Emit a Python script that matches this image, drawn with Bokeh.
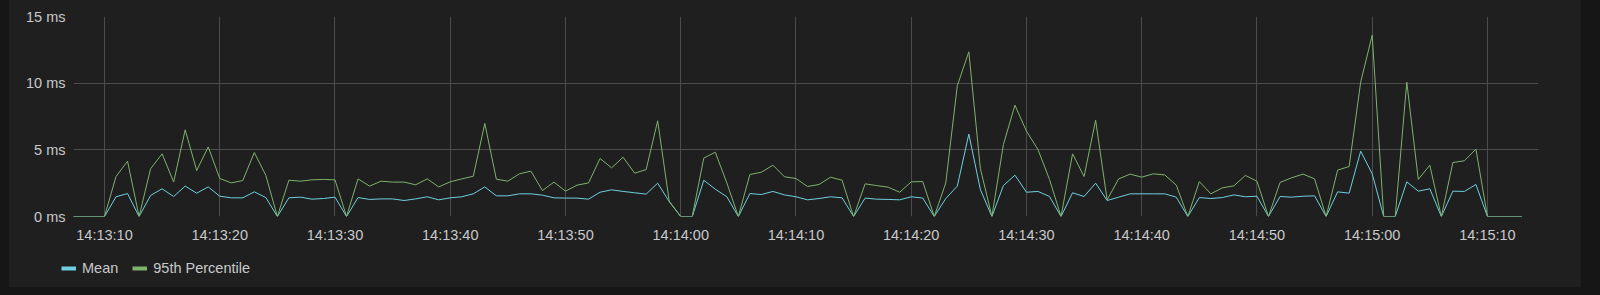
import pandas as pd
from bokeh.plotting import figure
from bokeh.layouts import column, row
from bokeh.models import (Range1d, FixedTicker, DatetimeTickFormatter, PrintfTickFormatter,
                          Legend, LegendItem, ColumnDataSource)
from bokeh.embed import file_html
from bokeh.resources import INLINE

# ---- data (one sample per second, starting 14:13:07) ----
start_time = "2019-01-01 14:13:07"
mean_ms = [
    0, 0, 0, 0, 1.48, 1.72, 0, 1.58, 2.08, 1.5,          # 13:07-13:16
    2.28, 1.75, 2.22, 1.52, 1.4, 1.4, 1.85, 1.42, 0, 1.4,   # 13:17-13:26
    1.45, 1.3, 1.35, 1.45, 0, 1.42, 1.28, 1.32, 1.32, 1.2,  # 13:27-13:36
    1.32, 1.48, 1.25, 1.4, 1.48, 1.7, 2.22, 1.55, 1.55, 1.7,  # 13:37-13:46
    1.7, 1.6, 1.4, 1.38, 1.38, 1.3, 1.82, 2.0, 1.88, 1.78,  # 13:47-13:56
    1.68, 2.5, 1.12, 0, 0, 2.72, 2.05, 1.48, 0, 1.72,       # 13:57-14:06
    1.65, 1.88, 1.62, 1.48, 1.25, 1.35, 1.48, 1.4, 0, 1.38,  # 14:07-14:16
    1.3, 1.28, 1.25, 1.48, 1.38, 0, 1.35, 2.28, 6.18, 2.02,  # 14:17-14:26
    0, 2.32, 3.1, 1.82, 1.88, 1.5, 0, 1.78, 1.5, 2.5,       # 14:27-14:36
    1.2, 1.45, 1.7, 1.7, 1.7, 1.7, 1.45, 0, 1.42, 1.35,     # 14:37-14:46
    1.42, 1.62, 1.48, 1.52, 0, 1.5, 1.45, 1.52, 1.55, 0,    # 14:47-14:56
    1.85, 1.75, 4.9, 3.2, 0, 0, 2.6, 1.9, 2.08, 0,          # 14:57-15:06
    1.9, 1.88, 2.4, 0, 0, 0, 0,                              # 15:07-15:13
]
p95_ms = [
    0, 0, 0, 0, 3.0, 4.15, 0, 3.58, 4.7, 2.58,
    6.5, 3.45, 5.22, 2.85, 2.52, 2.7, 4.8, 3.08, 0, 2.72,
    2.65, 2.75, 2.78, 2.75, 0, 2.82, 2.28, 2.65, 2.58, 2.58,
    2.38, 2.82, 2.22, 2.6, 2.82, 3.02, 6.98, 2.8, 2.65, 3.2,
    3.4, 1.95, 2.58, 1.9, 2.35, 2.52, 4.35, 3.65, 4.45, 3.25,
    3.52, 7.18, 1.15, 0, 0, 4.38, 4.82, 2.52, 0, 3.15,
    3.32, 3.85, 2.98, 2.85, 2.25, 2.4, 2.95, 2.72, 0, 2.45,
    2.32, 2.2, 1.82, 2.6, 2.62, 0, 2.52, 9.82, 12.35, 3.6,
    0, 5.4, 8.35, 6.4, 5.02, 2.78, 0, 4.7, 3.0, 7.22,
    1.25, 2.82, 3.18, 2.95, 3.2, 3.12, 2.35, 0, 2.62, 1.7,
    2.15, 2.3, 3.08, 2.65, 0, 2.55, 2.9, 3.18, 2.82, 0,
    3.48, 3.75, 10.08, 13.6, 0, 0, 10.08, 2.78, 3.85, 0,
    4.05, 4.18, 5.05, 0, 0, 0, 0,
]
series_names = ["Mean", "95th Percentile"]
x_ticks = ["14:13:10", "14:13:20", "14:13:30", "14:13:40", "14:13:50", "14:14:00", "14:14:10",
           "14:14:20", "14:14:30", "14:14:40", "14:14:50", "14:15:00", "14:15:10"]
y_ticks = [0, 5, 10, 15]

times = pd.date_range(start_time, periods=len(mean_ms), freq="1s")
src = ColumnDataSource(dict(t=times, mean=mean_ms, p95=p95_ms))

def to_ms(ts):
    return (pd.Timestamp(ts) - pd.Timestamp("1970-01-01")) // pd.Timedelta("1ms")

day = start_time.split(" ")[0]
tick_ms = [to_ms(day + " " + t) for t in x_ticks]

OUTER = "#161616"
PANEL = "#1f1f1f"
TEXT = "#c8c9ca"
GRID = "#4c4c4c"
FONT = "Liberation Sans"
C_MEAN = "#6ED0E0"
C_P95 = "#7EB26D"

# ---- main chart ----
p = figure(width=1572, height=245, output_backend="svg", toolbar_location=None,
           x_axis_type="datetime",
           x_range=Range1d(pd.Timestamp(day + " 14:13:07.31"), pd.Timestamp(day + " 14:15:14.43")),
           y_range=Range1d(0, 15),
           min_border_left=64, min_border_right=43, min_border_top=16, min_border_bottom=28)
p.border_fill_color = PANEL
p.background_fill_color = PANEL
p.outline_line_color = None

p.line("t", "mean", source=src, color=C_MEAN, line_width=1)
p.line("t", "p95", source=src, color=C_P95, line_width=1)

p.xaxis.ticker = FixedTicker(ticks=tick_ms)
fmt = "%H:%M:%S"
p.xaxis.formatter = DatetimeTickFormatter(milliseconds=fmt, seconds=fmt, minsec=fmt, minutes=fmt,
                                          hourmin=fmt, hours=fmt, days=fmt)
p.yaxis.ticker = FixedTicker(ticks=y_ticks)
p.yaxis.formatter = PrintfTickFormatter(format="%d ms")
for ax in (p.xaxis[0], p.yaxis[0]):
    ax.axis_line_color = None
    ax.major_tick_line_color = None
    ax.minor_tick_line_color = None
    ax.major_tick_in = 0
    ax.major_tick_out = 0
    ax.major_label_text_font = FONT
    ax.major_label_text_font_size = "14.5px"
    ax.major_label_text_color = TEXT
p.xaxis.major_label_standoff = 10
p.yaxis.major_label_standoff = 8

p.xgrid.grid_line_color = GRID
p.ygrid.grid_line_color = GRID
p.xgrid.ticker = p.xaxis[0].ticker
p.ygrid.ticker = p.yaxis[0].ticker

# ---- legend strip ----
lg = figure(width=1572, height=42, output_backend="svg", toolbar_location=None,
            x_range=Range1d(0, 1), y_range=Range1d(0, 1),
            x_axis_location=None, y_axis_location=None,
            min_border_left=0, min_border_right=0, min_border_top=0, min_border_bottom=0)
lg.border_fill_color = PANEL
lg.background_fill_color = PANEL
lg.outline_line_color = None
lg.xgrid.grid_line_color = None
lg.ygrid.grid_line_color = None
# swatch renderers (placed outside the visible range; only the legend shows them)
sw_mean = lg.line(x=[-5, -4], y=[-5, -5], color=C_MEAN, line_width=4)
sw_p95 = lg.line(x=[-5, -4], y=[-5, -5], color=C_P95, line_width=4)
legend = Legend(items=[LegendItem(label=series_names[0], renderers=[sw_mean]),
                       LegendItem(label=series_names[1], renderers=[sw_p95])],
                location=(52, 11), orientation="horizontal",
                glyph_width=15, glyph_height=16, label_height=16, label_standoff=6,
                spacing=14, padding=0, margin=0,
                label_text_font=FONT, label_text_font_size="14.5px", label_text_color=TEXT,
                border_line_alpha=0, background_fill_alpha=0)
lg.add_layout(legend)

inner = column(p, row(lg), width=1572, height=287, spacing=0, margin=(0, 19, 8, 9),
               styles={"background-color": PANEL})
page = column(inner, width=1600, height=295, spacing=0, styles={"background-color": OUTER})

open("out.html", "w").write(file_html(page, INLINE))
